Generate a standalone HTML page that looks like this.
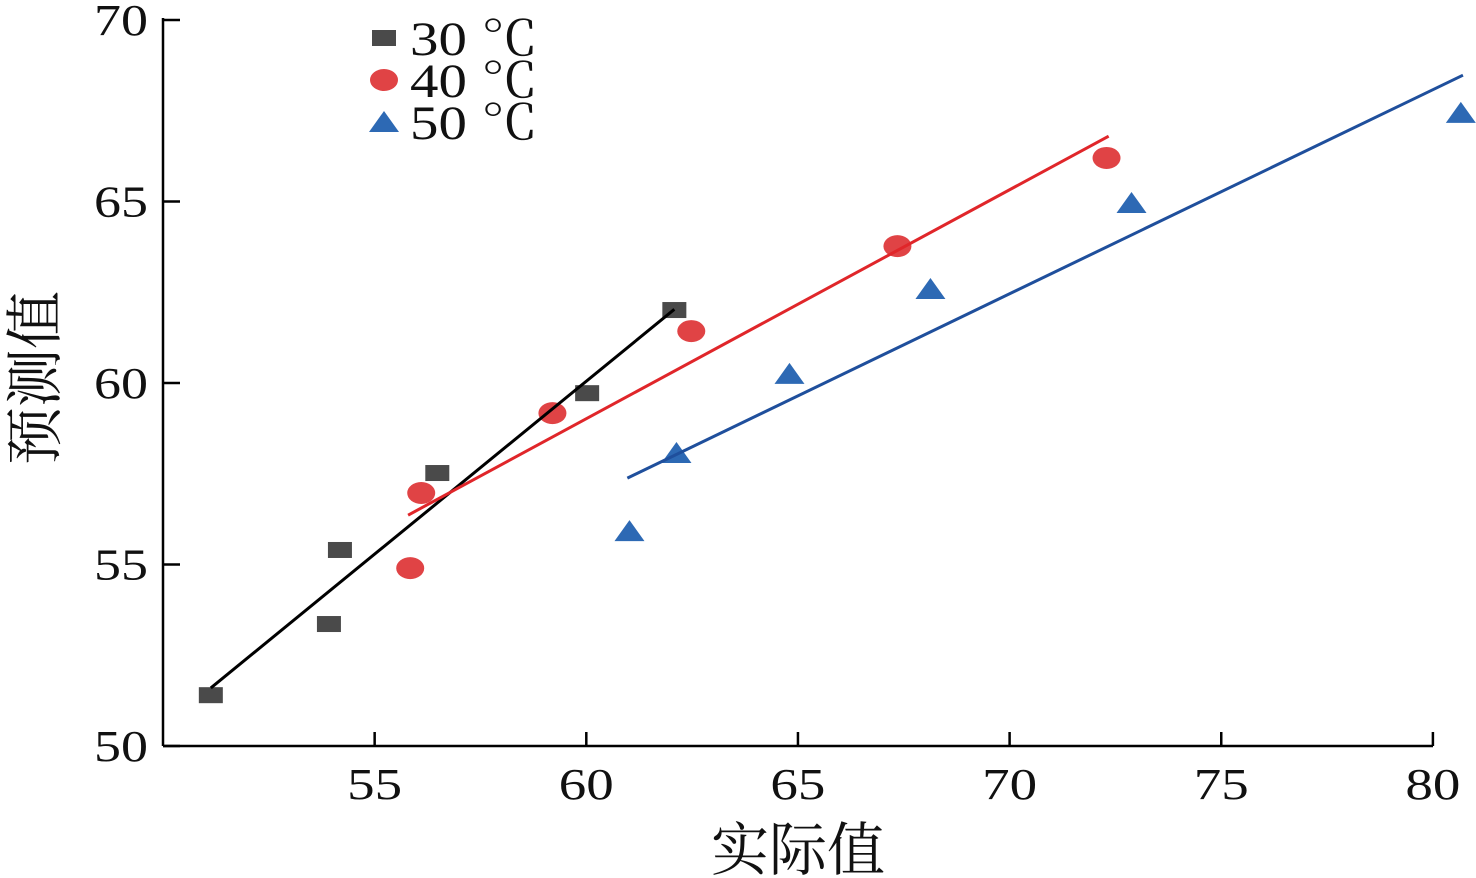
<!DOCTYPE html>
<html><head><meta charset="utf-8"><style>
html,body{margin:0;padding:0;background:#fff;}
svg{display:block;}
text{font-family:"Liberation Serif","Noto Serif CJK SC",serif;fill:#111;}
</style></head><body>
<svg id="chart" width="1476" height="878"></svg>
<script>
const xTicks=[55,60,65,70,75,80];
const yTicks=[50,55,60,65,70];
const s30x=[51.13,53.92,54.18,56.48,60.02,62.08];
const s30y=[51.4,53.36,55.4,57.52,59.72,62.01];
const s40x=[55.84,56.1,59.2,62.48,67.35,72.29];
const s40y=[54.9,56.97,59.17,61.43,63.77,66.2];
const s50x=[61.02,62.13,64.8,68.13,72.88,80.66];
const s50y=[55.92,58.07,60.25,62.59,64.96,67.44];
const fit30=[51.13,51.6,62.08,62.03];
const fit40=[55.79,56.36,72.34,66.8];
const fit50=[60.97,57.38,80.71,68.48];
const X=v=>163+(v-50)*42.33;
const Y=v=>746-(v-50)*36.3;
const svg=document.getElementById('chart');
const NS='http://www.w3.org/2000/svg';
function mk(t,a){const e=document.createElementNS(NS,t);for(const k in a)e.setAttribute(k,a[k]);svg.appendChild(e);return e;}
let e;
e=mk('line',{x1:163,y1:746,x2:1433,y2:746,stroke:'#000','stroke-width':2.5});


e=mk('line',{x1:163,y1:18,x2:163,y2:746,stroke:'#000','stroke-width':2.5});


xTicks.forEach(t=>{
 e=mk('line',{x1:X(t),y1:746,x2:X(t),y2:732,stroke:'#000','stroke-width':2.5});
 
 
 e=mk('text',{x:X(t),y:799,'font-size':44,'text-anchor':'middle',textLength:55,lengthAdjust:'spacingAndGlyphs'});e.textContent=t;
 
 
});
yTicks.forEach(t=>{
 e=mk('text',{x:148,y:Y(t)+15,'font-size':44,'text-anchor':'end',textLength:54,lengthAdjust:'spacingAndGlyphs'});e.textContent=t;
 
 
 e=mk('line',{x1:163,y1:Y(t),x2:180,y2:Y(t),stroke:'#000','stroke-width':2.5});
 
 
});
e=mk('text',{x:798,y:870,'font-size':58,'text-anchor':'middle'});e.textContent='实际值';


e=mk('text',{x:0,y:0,'font-size':58,'text-anchor':'middle',transform:'translate(55,378) rotate(-90)'});e.textContent='预测值';


function fit(f,c,n){e=mk('line',{x1:X(f[0]),y1:Y(f[1]),x2:X(f[2]),y2:Y(f[3]),stroke:c,'stroke-width':3});
 
 }
function sq(cx,cy){return mk('rect',{x:cx-12,y:cy-8,width:24,height:16,fill:'#4a4a4a'});}
function ci(cx,cy){return mk('ellipse',{cx:cx,cy:cy,rx:14,ry:11,fill:'#e04345'});}
function tr(cx,cy){return mk('polygon',{points:`${cx-15},${cy+10} ${cx+15},${cy+10} ${cx},${cy-11}`,fill:'#2d69b4'});}
s30x.forEach((v,i)=>{e=sq(X(v),Y(s30y[i]));
 
 });
s40x.forEach((v,i)=>{e=ci(X(v),Y(s40y[i]));
 
 });
s50x.forEach((v,i)=>{e=tr(X(v),Y(s50y[i]));
 
 });
fit(fit30,'#000','fit-line-30c');
fit(fit40,'#e0262a','fit-line-40c');
fit(fit50,'#1f4f9c','fit-line-50c');
const leg=[['30 ℃',sq,38],['40 ℃',ci,80],['50 ℃',tr,122]];
leg.forEach(l=>{e=l[1](384,l[2]);
 
 
 e=mk('text',{x:410,y:l[2]+17,'font-size':48,textLength:128,lengthAdjust:'spacingAndGlyphs'});e.textContent=l[0];
 
 });
</script>
</body></html>
